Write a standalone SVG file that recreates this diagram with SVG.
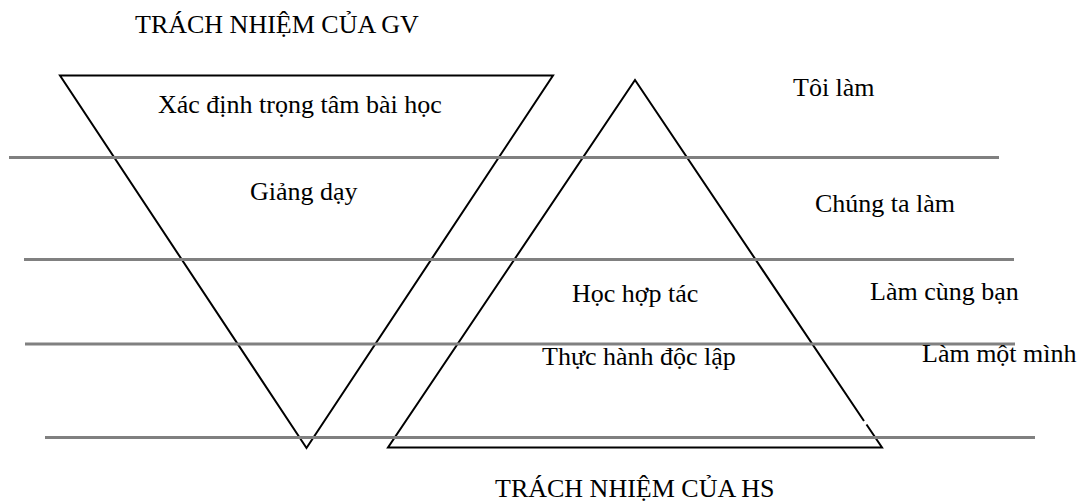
<svg xmlns="http://www.w3.org/2000/svg" width="1083" height="503" viewBox="0 0 1083 503">
  <style>
    .tri { fill: none; stroke: #000; stroke-width: 2; stroke-linejoin: miter; }
    .band { stroke: #808080; stroke-width: 3; }
    .lbl { font-family: "Liberation Serif", "Times New Roman", serif; font-size: 26px; fill: #000; }
  </style>
  <rect width="1083" height="503" fill="#fff"/>

  <!-- teacher responsibility: inverted triangle -->
  <g id="teacher-triangle">
    <polygon class="tri" points="60,75.5 553,75.5 306.5,448"/>
  </g>

  <!-- student responsibility: upright triangle (right edge has a small break) -->
  <g id="student-triangle">
    <polyline class="tri" points="864,421 635,80 388,447.5 882,447.5 866.5,424.5"/>
  </g>

  <!-- horizontal level dividers -->
  <g id="connectors">
    <line class="band" x1="9" y1="157.5" x2="999" y2="157.5"/>
    <line class="band" x1="24" y1="259.5" x2="1014" y2="259.5"/>
    <line class="band" x1="25" y1="344" x2="1015" y2="344"/>
    <line class="band" x1="45" y1="437.5" x2="1035" y2="437.5"/>
  </g>

  <g id="title-gv"><text class="lbl" x="135" y="33">TRÁCH NHIỆM CỦA GV</text></g>
  <g id="step-focus"><text class="lbl" x="158" y="113">Xác định trọng tâm bài học</text></g>
  <g id="step-teach"><text class="lbl" x="250" y="200">Giảng dạy</text></g>
  <g id="step-collab"><text class="lbl" x="572" y="302">Học hợp tác</text></g>
  <g id="step-practice"><text class="lbl" x="542" y="365">Thực hành độc lập</text></g>

  <g id="level-i-do"><text class="lbl" x="793" y="96">Tôi làm</text></g>
  <g id="level-we-do"><text class="lbl" x="815" y="212">Chúng ta làm</text></g>
  <g id="level-you-do-together"><text class="lbl" x="870" y="300">Làm cùng bạn</text></g>
  <g id="level-you-do-alone"><text class="lbl" x="922" y="362">Làm một mình</text></g>

  <g id="title-hs"><text class="lbl" x="495" y="497">TRÁCH NHIỆM CỦA HS</text></g>
</svg>
